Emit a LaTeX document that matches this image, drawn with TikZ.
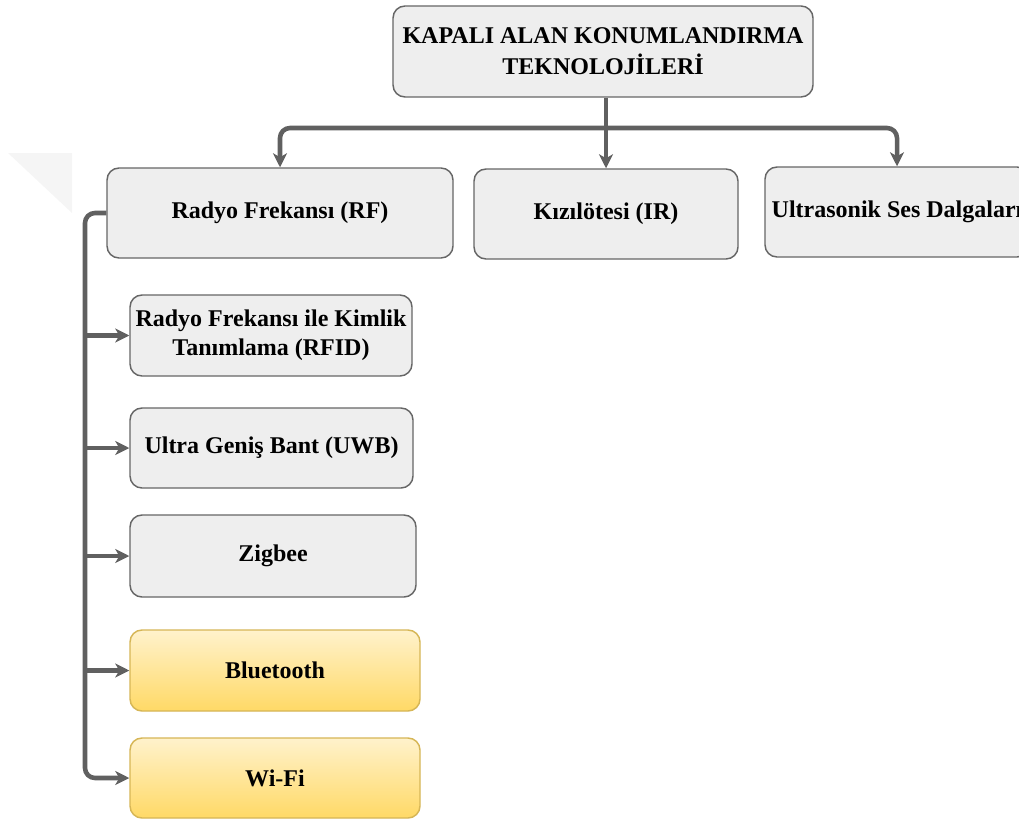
\documentclass[tikz,border=0pt]{standalone}
\usepackage{fontspec}
\setmainfont{Liberation Serif}
\usetikzlibrary{arrows.meta,calc}
\definecolor{boxfill}{HTML}{EEEEEE}
\definecolor{boxline}{HTML}{666666}
\definecolor{connline}{HTML}{606060}
\definecolor{ytop}{HTML}{FFF2CC}
\definecolor{ybot}{HTML}{FFD966}
\definecolor{yline}{HTML}{D6B656}
\definecolor{wmark}{HTML}{F5F5F5}
\tikzset{
  box/.style={draw=boxline, line width=1.1pt, fill=boxfill, rounded corners=9pt,
    align=center, inner sep=0pt, font=\fontsize{18}{21.5}\selectfont\bfseries},
  ybox/.style={box, draw=yline, top color=ytop, bottom color=ybot},
  sz/.style 2 args={minimum width=#1*0.75pt, minimum height=#2*0.75pt},
  conn/.style={draw=connline, line width=3.4pt, rounded corners=7.5pt,
    -{Stealth[length=10.5pt,width=10.5pt,inset=3pt]}}
}
\begin{document}
\begin{tikzpicture}[x=0.75pt,y=-0.75pt]
\clip (0,0) rectangle (1019,820);
\fill[wmark] (8,153) -- (72,153) -- (72,213) -- cycle;

\node[box, sz={420}{91}, font=\fontsize{18}{23.5}\selectfont\bfseries] (top) at (603,51.5)
  {KAPALI ALAN KONUMLANDIRMA\\TEKNOLOJİLERİ};
\node[box, sz={346}{90}] (RF) at (280,213) {Radyo Frekansı (RF)};
\node[box, sz={264}{90}] (IR) at (606,214) {Kızılötesi (IR)};
\node[box, sz={264}{90}] (US) at (897,212) {Ultrasonik Ses Dalgaları};

\node[box, sz={282}{81}] (RFID) at (271,335.5)
  {Radyo Frekansı ile Kimlik\\Tanımlama (RFID)};
\node[box, sz={283}{80}] (UWB) at (271.5,448) {Ultra Geniş Bant (UWB)};
\node[box, sz={286}{82}] (ZB) at (273,556) {Zigbee};
\node[ybox, sz={290}{81}] (BT) at (275,670.5) {Bluetooth};
\node[ybox, sz={290}{80}] (WF) at (275,778) {Wi-Fi};

\coordinate (hub) at (606,128);
\coordinate (spine) at (85,500);

\draw[conn] (IR.north |- top.south) -- (IR.north);
\draw[conn] (hub) -| (RF.north);
\draw[conn] (hub) -| (US.north);

\draw[conn] (RF.west) -| (spine) |- (WF.west);
\draw[conn] (spine |- RFID.west) -- (RFID.west);
\draw[conn] (spine |- UWB.west) -- (UWB.west);
\draw[conn] (spine |- ZB.west) -- (ZB.west);
\draw[conn] (spine |- BT.west) -- (BT.west);
\end{tikzpicture}
\end{document}
